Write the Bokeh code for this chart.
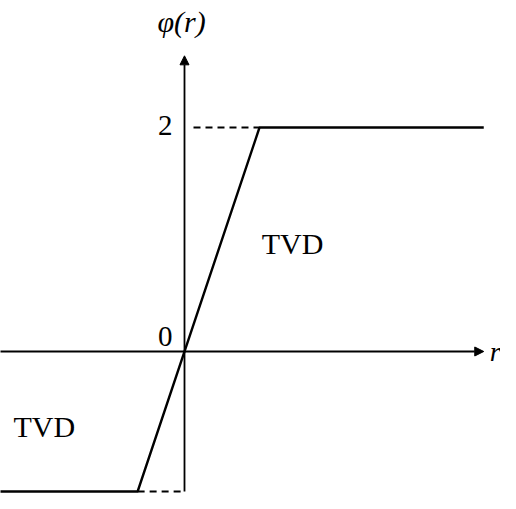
from bokeh.plotting import figure
from bokeh.models import Arrow, NormalHead, Range1d
from bokeh.core.properties import value
from bokeh.embed import file_html
from bokeh.resources import INLINE

# limiter curve phi(r) (sketch)
r_points = [-2.6, -0.625, 1.0, 3.99]
phi_points = [-1.25, -1.25, 2.0, 2.0]

# dashed guides
top_dash_r = [0.12, 1.0]
top_dash_phi = [2.0, 2.0]
bot_dash_r = [-0.625, 0.0]
bot_dash_phi = [-1.25, -1.25]

# axis extents
x_axis_r = [-2.6, 3.99]
y_axis_phi = [-1.25, 2.64]

FONT = "Liberation Serif"

p = figure(width=500, height=493, output_backend="svg", toolbar_location=None,
           x_range=Range1d(-2.4533, 4.2133), y_range=Range1d(-1.2679, 3.1339),
           min_border=0)
p.axis.visible = False
p.grid.visible = False
p.outline_line_color = None
p.background_fill_color = "white"
p.border_fill_color = "white"

# axes with arrows
p.add_layout(Arrow(end=NormalHead(size=9, fill_color="black", line_color="black"),
                   x_start=x_axis_r[0], y_start=0, x_end=x_axis_r[1], y_end=0,
                   line_width=2.2, line_color="black"))
p.add_layout(Arrow(end=NormalHead(size=9, fill_color="black", line_color="black"),
                   x_start=0, y_start=y_axis_phi[0], x_end=0, y_end=y_axis_phi[1],
                   line_width=1.8, line_color="black"))

p.line(r_points, phi_points, line_width=2.4, line_color="black")
p.line(top_dash_r, top_dash_phi, line_width=2, line_color="black", line_dash="7 5")
p.line(bot_dash_r, bot_dash_phi, line_width=2, line_color="black", line_dash="7 5")

# labels
p.text(x=[1.03, -2.28], y=[0.96, -0.67], text=["TVD", "TVD"],
       text_font=value(FONT), text_font_size="30px", text_color="black",
       text_align="left", text_baseline="alphabetic")
p.text(x=[-0.16], y=[2.02], text=["2"], text_font=value(FONT), text_font_size="29px",
       text_align="right", text_baseline="alphabetic", text_color="black")
p.text(x=[-0.16], y=[0.13], text=["0"], text_font=value(FONT), text_font_size="29px",
       text_align="right", text_baseline="alphabetic", text_color="black")
p.text(x=[-0.36], y=[2.95], text=["φ(r)"], text_font=value(FONT), text_font_size="30px",
       text_font_style="italic", text_align="left", text_baseline="alphabetic",
       text_color="black")
p.text(x=[4.07], y=[0.0], text=["r"], text_font=value(FONT), text_font_size="28px",
       text_font_style="italic", text_align="left", text_baseline="alphabetic",
       text_color="black")

open("out.html", "w").write(file_html(p, INLINE))
